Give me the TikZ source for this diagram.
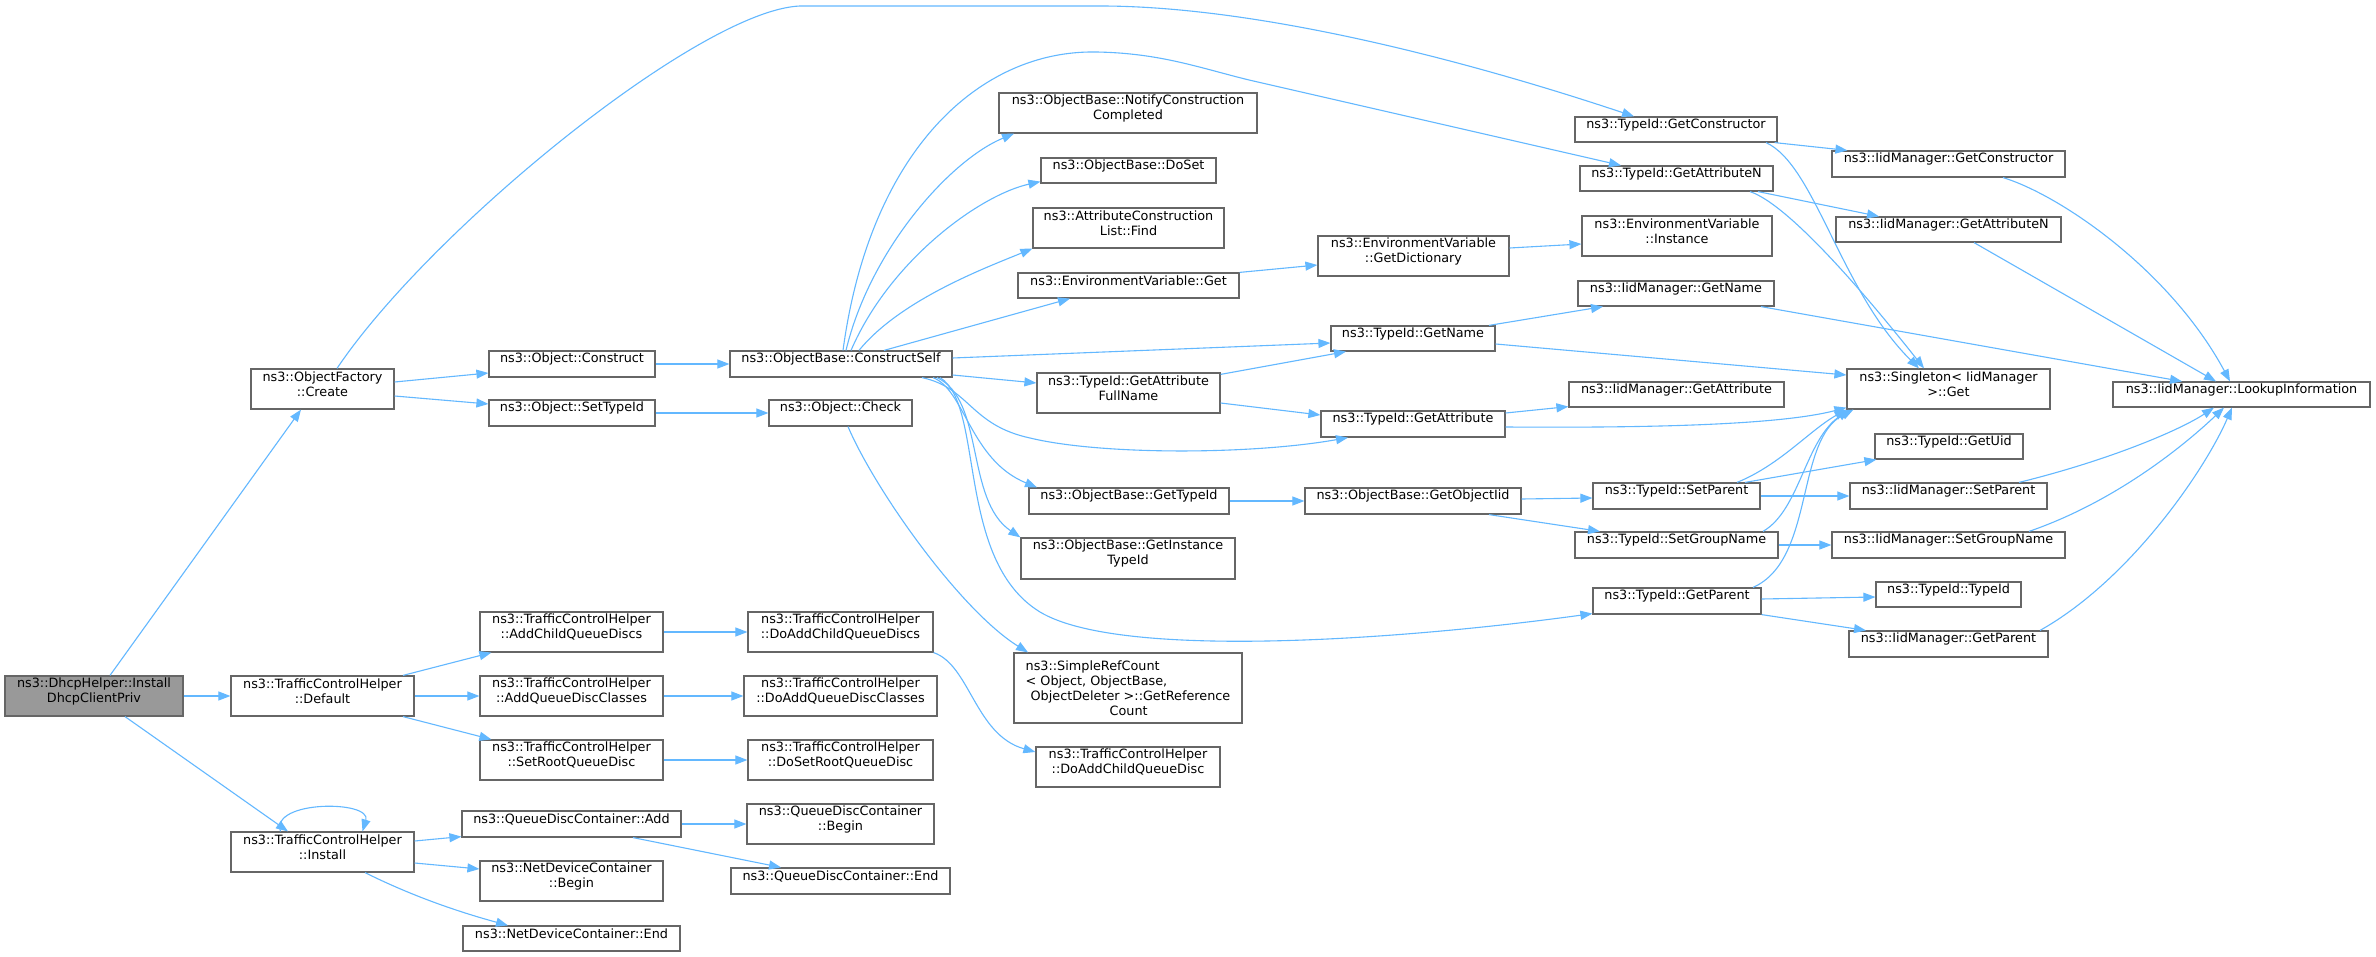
\documentclass[tikz,border=0pt]{standalone}
\usepackage{fontspec}
\setmainfont{DejaVu Sans}
\usetikzlibrary{arrows.meta,fit,calc}
\definecolor{eb}{HTML}{63B8FF}
\definecolor{bgray}{HTML}{666666}
\definecolor{rootfill}{HTML}{999999}
\newcommand\dxfont{\fontsize{12.8pt}{15pt}\selectfont}
\begin{document}
\begin{tikzpicture}[x=1pt,y=-1pt,
  boxbase/.style={draw=bgray,line width=1.2pt,fill=white,inner sep=0pt,font=\dxfont},
  box/.style={boxbase,align=center},
  cl/.style={draw=eb,line width=1.1pt,-{Triangle[length=12pt,width=9pt]}}]
\fill[white] (0,0) rectangle (2376,957);
\useasboundingbox (0,0) rectangle (2376,957);
% nodes
\node[box,fill=rootfill,fit={(5,676) (183,716)}] (dhcp) {ns3::DhcpHelper::Install\\DhcpClientPriv};
\node[box,fit={(251,369) (394,409)}] (create) {ns3::ObjectFactory\\::Create};
\node[box,fit={(489,351) (655,377)}] (construct) {ns3::Object::Construct};
\node[box,fit={(489,400) (655,426)}] (settypeid) {ns3::Object::SetTypeId};
\node[box,fit={(730,351) (952,377)}] (cself) {ns3::ObjectBase::ConstructSelf};
\node[box,fit={(769,400) (912,426)}] (check) {ns3::Object::Check};
\node[box,fit={(999,93) (1257,133)}] (notify) {ns3::ObjectBase::NotifyConstruction\\Completed};
\node[box,fit={(1041,158) (1216,183)}] (doset) {ns3::ObjectBase::DoSet};
\node[box,fit={(1033,208) (1224,248)}] (acl) {ns3::AttributeConstruction\\List::Find};
\node[box,fit={(1018,273) (1239,298)}] (envget) {ns3::EnvironmentVariable::Get};
\node[box,fit={(1318,236) (1509,276)}] (getdict) {ns3::EnvironmentVariable\\::GetDictionary};
\node[box,fit={(1331,326) (1495,351)}] (getname) {ns3::TypeId::GetName};
\node[box,fit={(1037,373) (1220,413)}] (gafn) {ns3::TypeId::GetAttribute\\FullName};
\node[box,fit={(1321,411) (1505,437)}] (getattr) {ns3::TypeId::GetAttribute};
\node[box,fit={(1029,488) (1229,514)}] (obtypeid) {ns3::ObjectBase::GetTypeId};
\node[box,fit={(1305,488) (1521,514)}] (getobjiid) {ns3::ObjectBase::GetObjectIid};
\node[box,fit={(1021,538) (1235,579)}] (getinst) {ns3::ObjectBase::GetInstance\\TypeId};
\node[boxbase,align=left,minimum width=228pt,minimum height=70pt] (simpleref) at (1128,688) {ns3::SimpleRefCount\\< Object, ObjectBase,\\\hspace*{5pt}ObjectDeleter >::GetReference\\\hspace*{84pt}Count};
\node[box,fit={(1036,747) (1220,787)}] (doaddchild) {ns3::TrafficControlHelper\\::DoAddChildQueueDisc};
\node[box,fit={(1575,117) (1777,142)}] (tgetctor) {ns3::TypeId::GetConstructor};
\node[box,fit={(1832,151) (2065,177)}] (igetctor) {ns3::IidManager::GetConstructor};
\node[box,fit={(1580,166) (1773,191)}] (tgetattrn) {ns3::TypeId::GetAttributeN};
\node[box,fit={(1836,217) (2061,242)}] (igetattrn) {ns3::IidManager::GetAttributeN};
\node[box,fit={(1582,216) (1772,256)}] (envinst) {ns3::EnvironmentVariable\\::Instance};
\node[box,fit={(1578,281) (1774,306)}] (igetname) {ns3::IidManager::GetName};
\node[box,fit={(1847,369) (2050,409)}] (singleton) {ns3::Singleton< IidManager\\>::Get};
\node[box,fit={(1569,382) (1784,407)}] (igetattr) {ns3::IidManager::GetAttribute};
\node[box,fit={(2113,382) (2370,407)}] (lookup) {ns3::IidManager::LookupInformation};
\node[box,fit={(1875,434) (2023,459)}] (getuid) {ns3::TypeId::GetUid};
\node[box,fit={(1593,483) (1760,509)}] (tsetparent) {ns3::TypeId::SetParent};
\node[box,fit={(1850,483) (2047,509)}] (isetparent) {ns3::IidManager::SetParent};
\node[box,fit={(1575,532) (1778,558)}] (tsetgroup) {ns3::TypeId::SetGroupName};
\node[box,fit={(1832,532) (2065,558)}] (isetgroup) {ns3::IidManager::SetGroupName};
\node[box,fit={(1593,588) (1761,614)}] (tgetparent) {ns3::TypeId::GetParent};
\node[box,fit={(1876,582) (2021,607)}] (typeid) {ns3::TypeId::TypeId};
\node[box,fit={(1849,631) (2048,657)}] (igetparent) {ns3::IidManager::GetParent};
\node[box,fit={(231,676) (414,716)}] (default) {ns3::TrafficControlHelper\\::Default};
\node[box,fit={(480,612) (663,652)}] (addchild) {ns3::TrafficControlHelper\\::AddChildQueueDiscs};
\node[box,fit={(480,676) (663,716)}] (addclasses) {ns3::TrafficControlHelper\\::AddQueueDiscClasses};
\node[box,fit={(480,740) (663,780)}] (setroot) {ns3::TrafficControlHelper\\::SetRootQueueDisc};
\node[box,fit={(748,612) (933,652)}] (doaddchilds) {ns3::TrafficControlHelper\\::DoAddChildQueueDiscs};
\node[box,fit={(744,676) (937,716)}] (doaddclasses) {ns3::TrafficControlHelper\\::DoAddQueueDiscClasses};
\node[box,fit={(748,740) (933,780)}] (dosetroot) {ns3::TrafficControlHelper\\::DoSetRootQueueDisc};
\node[box,fit={(231,832) (414,872)}] (install) {ns3::TrafficControlHelper\\::Install};
\node[box,fit={(462,811) (681,837)}] (qdcadd) {ns3::QueueDiscContainer::Add};
\node[box,fit={(480,861) (663,901)}] (ndcbegin) {ns3::NetDeviceContainer\\::Begin};
\node[box,fit={(463,926) (680,951)}] (ndcend) {ns3::NetDeviceContainer::End};
\node[box,fit={(747,804) (934,844)}] (qdcbegin) {ns3::QueueDiscContainer\\::Begin};
\node[box,fit={(731,868) (950,894)}] (qdcend) {ns3::QueueDiscContainer::End};
% edges
\draw[cl] ([xshift=16pt]dhcp.north) -- ([xshift=-21.5pt]create.south);
\draw[cl] (dhcp.east) -- (default.west);
\draw[cl] ([xshift=31pt]dhcp.south) -- ([xshift=-34.5pt]install.north);
\draw[cl] ([yshift=7pt]create.east) -- ([yshift=-9pt]construct.west);
\draw[cl] ([yshift=-7pt]create.east) -- ([yshift=9pt]settypeid.west);
\draw[cl] ([xshift=14.5pt]create.north) .. controls (430,230) and (700,10) .. (800,6) -- (1100,6) .. controls (1250,6) and (1450,55) .. ([xshift=-42pt]tgetctor.north);
\draw[cl] (construct.east) -- (cself.west);
\draw[cl] (settypeid.east) -- (check.west);
\draw[cl] ([xshift=7.5pt]check.south) .. controls (875,490) and (960,610) .. ([xshift=-100pt]simpleref.north);
\draw[cl] ([xshift=2pt]cself.north) .. controls (870,150) and (980,50) .. (1096,52) .. controls (1160,53) and (1200,68) .. (1249,80) -- ([xshift=-55.5pt]tgetattrn.north);
\draw[cl] ([xshift=5pt]cself.north) .. controls (870,250) and (950,160) .. ([xshift=-114pt]notify.south);
\draw[cl] ([xshift=10pt]cself.north) .. controls (890,260) and (980,195) .. ([yshift=2pt]doset.south west);
\draw[cl] ([xshift=18pt]cself.north) .. controls (900,300) and (985,268) .. (acl.south west);
\draw[cl] ([xshift=43pt]cself.north) -- ([xshift=-58.5pt]envget.south);
\draw[cl] ([yshift=6pt]cself.east) -- ([yshift=-4.5pt]getname.west);
\draw[cl] ([yshift=-11pt]cself.east) -- ([yshift=10pt]gafn.west);
\draw[cl] ([xshift=81pt]cself.south) .. controls (970,388) and (970,425) .. (1030,438) .. controls (1100,455) and (1250,455) .. ([xshift=-65pt]getattr.south);
\draw[cl] ([xshift=92pt]cself.south) .. controls (965,390) and (970,460) .. ([xshift=-92pt]obtypeid.north);
\draw[cl] ([xshift=96pt]cself.south) .. controls (985,400) and (965,500) .. (getinst.north west);
\draw[cl] ([xshift=99pt]cself.south) .. controls (985,405) and (955,560) .. (1040,612) .. controls (1120,660) and (1400,640) .. ([yshift=1pt]tgetparent.south west);
\draw[cl] (envget.north east) -- ([yshift=-9pt]getdict.west);
\draw[cl] ([yshift=8pt]getdict.east) -- ([yshift=-8pt]envinst.west);
\draw[cl] ([yshift=-2pt]gafn.north east) -- ([xshift=-67pt]getname.south);
\draw[cl] ([yshift=-10pt]gafn.east) -- ([yshift=9pt]getattr.west);
\draw[cl] ([xshift=76pt]getname.north) -- ([xshift=-73pt]igetname.south);
\draw[cl] ([yshift=-5.5pt]getname.east) -- ([yshift=14pt]singleton.west);
\draw[cl] ([yshift=11pt]getattr.east) -- ([yshift=1pt]igetattr.south west);
\draw[cl] ([yshift=-3pt]getattr.east) .. controls (1650,428) and (1780,425) .. ([yshift=2pt]singleton.south west);
\draw[cl] ([xshift=-3pt]tgetctor.south east) -- ([xshift=16pt]igetctor.north west);
\draw[cl] ([xshift=90pt]tgetctor.south) .. controls (1815,165) and (1840,290) .. ([xshift=-29.5pt]singleton.north);
\draw[cl] ([xshift=81.5pt]tgetattrn.south) -- ([xshift=-69.5pt]igetattrn.north);
\draw[cl] ([xshift=73.5pt]tgetattrn.south) .. controls (1790,205) and (1870,300) .. ([xshift=-24.5pt]singleton.north);
\draw[cl] ([xshift=54.5pt]igetctor.south) .. controls (2060,195) and (2170,270) .. ([xshift=-11.5pt]lookup.north);
\draw[cl] ([xshift=25.5pt]igetattrn.south) -- ([xshift=-25.5pt]lookup.north);
\draw[cl] ([xshift=85pt]igetname.south) -- ([xshift=-59.5pt]lookup.north);
\draw[cl] (obtypeid.east) -- (getobjiid.west);
\draw[cl] ([yshift=2pt]getobjiid.east) -- ([yshift=-2pt]tsetparent.west);
\draw[cl] ([xshift=76pt]getobjiid.south) -- ([xshift=-76.5pt]tsetgroup.north);
\draw[cl] ([xshift=60.5pt]tsetparent.north) .. controls (1780,465) and (1810,430) .. (singleton.south west);
\draw[cl] ([xshift=68.5pt]tsetparent.north) -- ([xshift=2pt]getuid.south west);
\draw[cl] (tsetparent.east) -- (isetparent.west);
\draw[cl] ([xshift=86.5pt]tsetgroup.north) .. controls (1800,510) and (1805,440) .. ([xshift=3pt]singleton.south west);
\draw[cl] (tsetgroup.east) -- (isetgroup.west);
\draw[cl] ([xshift=76pt]tgetparent.north) .. controls (1815,560) and (1795,440) .. ([xshift=7pt]singleton.south west);
\draw[cl] ([yshift=2pt]tgetparent.east) -- ([yshift=-2.5pt]typeid.west);
\draw[cl] (tgetparent.south east) -- ([xshift=-82.5pt]igetparent.north);
\draw[cl] ([xshift=70.5pt]isetparent.north) .. controls (2110,460) and (2180,430) .. ([xshift=-27.5pt]lookup.south);
\draw[cl] ([xshift=80.5pt]isetgroup.north) .. controls (2120,500) and (2190,440) .. ([xshift=-17.5pt]lookup.south);
\draw[cl] ([xshift=91.5pt]igetparent.north) .. controls (2130,580) and (2205,470) .. ([xshift=-9.5pt]lookup.south);
\draw[cl] ([xshift=80.5pt]default.north) -- ([xshift=12pt]addchild.south west);
\draw[cl] (default.east) -- (addclasses.west);
\draw[cl] ([xshift=80.5pt]default.south) -- ([xshift=12pt]setroot.north west);
\draw[cl] (addchild.east) -- (doaddchilds.west);
\draw[cl] (addclasses.east) -- (doaddclasses.west);
\draw[cl] (setroot.east) -- (dosetroot.west);
\draw[cl] (doaddchilds.south east) .. controls (970,665) and (975,735) .. ([yshift=15pt]doaddchild.west);
\draw[cl] ([xshift=-42pt]install.north) .. controls (270,800) and (372,800) .. ([xshift=40pt]install.north);
\draw[cl] ([yshift=11pt]install.east) -- ([yshift=1pt]qdcadd.south west);
\draw[cl] ([yshift=-11pt]install.east) -- ([yshift=12pt]ndcbegin.west);
\draw[cl] ([xshift=42.5pt]install.south) .. controls (420,900) and (470,915) .. ([xshift=-63.5pt]ndcend.north);
\draw[cl] (qdcadd.east) -- (qdcbegin.west);
\draw[cl] ([xshift=61.5pt]qdcadd.south) -- ([xshift=-59.5pt]qdcend.north);
\end{tikzpicture}
\end{document}
